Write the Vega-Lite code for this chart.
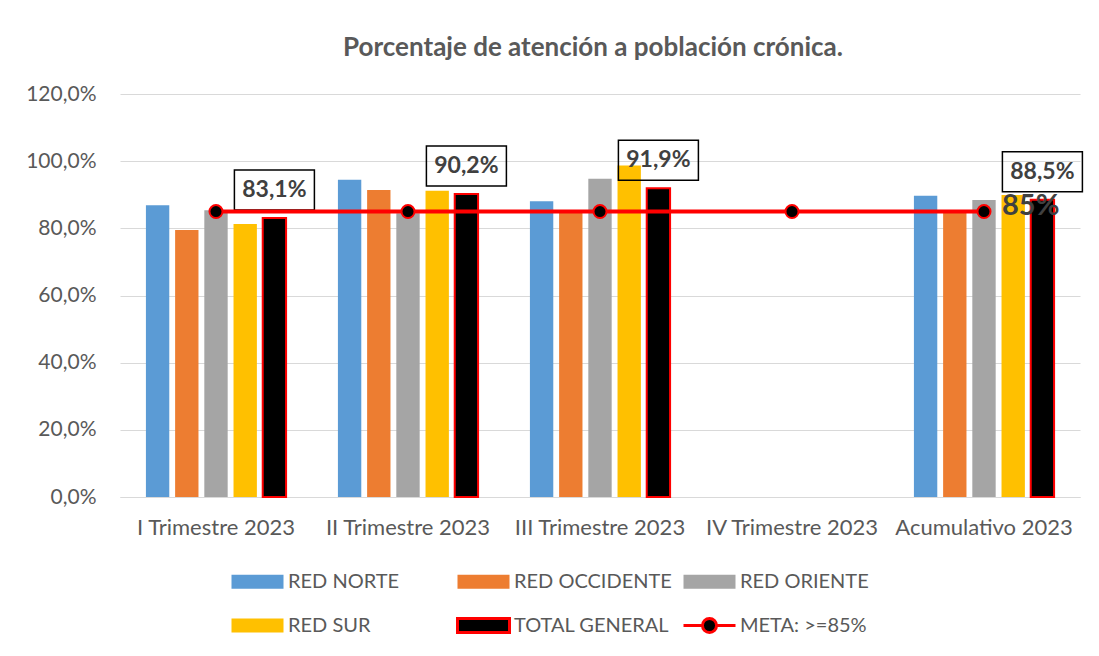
{
  "$schema": "https://vega.github.io/schema/vega-lite/v6.json",
  "width": 960,
  "height": 403,
  "autosize": "none",
  "padding": {"left": 120, "top": 94, "right": 19, "bottom": 159},
  "background": "white",
  "title": {
    "text": "Porcentaje de atención a población crónica.",
    "font": "Lato", "fontSize": 26, "fontWeight": "bold", "color": "#595959",
    "anchor": "middle", "offset": 22, "dx": -7
  },
  "datasets": {
    "bars": [
      {"periodo": "I Trimestre 2023", "serie": "RED NORTE", "valor": 86.9},
      {"periodo": "I Trimestre 2023", "serie": "RED OCCIDENTE", "valor": 79.5},
      {"periodo": "I Trimestre 2023", "serie": "RED ORIENTE", "valor": 85.4},
      {"periodo": "I Trimestre 2023", "serie": "RED SUR", "valor": 81.3},
      {"periodo": "I Trimestre 2023", "serie": "TOTAL GENERAL", "valor": 83.1},
      {"periodo": "II Trimestre 2023", "serie": "RED NORTE", "valor": 94.5},
      {"periodo": "II Trimestre 2023", "serie": "RED OCCIDENTE", "valor": 91.4},
      {"periodo": "II Trimestre 2023", "serie": "RED ORIENTE", "valor": 84.5},
      {"periodo": "II Trimestre 2023", "serie": "RED SUR", "valor": 91.2},
      {"periodo": "II Trimestre 2023", "serie": "TOTAL GENERAL", "valor": 90.2},
      {"periodo": "III Trimestre 2023", "serie": "RED NORTE", "valor": 88.1},
      {"periodo": "III Trimestre 2023", "serie": "RED OCCIDENTE", "valor": 84.8},
      {"periodo": "III Trimestre 2023", "serie": "RED ORIENTE", "valor": 94.8},
      {"periodo": "III Trimestre 2023", "serie": "RED SUR", "valor": 98.7},
      {"periodo": "III Trimestre 2023", "serie": "TOTAL GENERAL", "valor": 91.9},
      {"periodo": "Acumulativo 2023", "serie": "RED NORTE", "valor": 89.7},
      {"periodo": "Acumulativo 2023", "serie": "RED OCCIDENTE", "valor": 85.0},
      {"periodo": "Acumulativo 2023", "serie": "RED ORIENTE", "valor": 88.4},
      {"periodo": "Acumulativo 2023", "serie": "RED SUR", "valor": 89.9},
      {"periodo": "Acumulativo 2023", "serie": "TOTAL GENERAL", "valor": 88.5}
    ],
    "meta": [
      {"periodo": "I Trimestre 2023", "meta": 85},
      {"periodo": "II Trimestre 2023", "meta": 85},
      {"periodo": "III Trimestre 2023", "meta": 85},
      {"periodo": "IV Trimestre 2023", "meta": 85},
      {"periodo": "Acumulativo 2023", "meta": 85}
    ]
  },
  "layer": [
    {
      "data": {"name": "bars"},
      "mark": {"type": "bar"},
      "encoding": {
        "x": {
          "field": "periodo", "type": "nominal", "sort": null,
          "scale": {"domain": ["I Trimestre 2023", "II Trimestre 2023", "III Trimestre 2023", "IV Trimestre 2023", "Acumulativo 2023"], "paddingInner": 0.27, "paddingOuter": 0.135},
          "axis": {"title": null, "labelAngle": 0, "labelFontSize": 22, "labelColor": "#595959", "ticks": false, "domainColor": "#D9D9D9", "labelPadding": 20, "labelFont": "Lato"}
        },
        "xOffset": {
          "field": "serie", "type": "nominal",
          "scale": {"domain": ["RED NORTE", "RED OCCIDENTE", "RED ORIENTE", "RED SUR", "TOTAL GENERAL"], "paddingInner": 0.2, "paddingOuter": 0}
        },
        "y": {
          "field": "valor", "type": "quantitative",
          "scale": {"domain": [0, 120], "nice": false},
          "axis": {"title": null, "values": [0, 20, 40, 60, 80, 100, 120], "domain": false, "ticks": false, "gridColor": "#D9D9D9", "labelFontSize": 21, "labelColor": "#595959", "labelPadding": 24, "labelFont": "Lato",
            "labelExpr": "replace(format(datum.value, '.1f'), '.', ',') + '%'"}
        },
        "color": {
          "field": "serie", "type": "nominal",
          "scale": {
            "domain": ["RED NORTE", "RED OCCIDENTE", "RED ORIENTE", "RED SUR", "TOTAL GENERAL", "META: >=85%"],
            "range": ["#5B9BD5", "#ED7D31", "#A5A5A5", "#FFC000", "#000000", "#000000"]
          },
          "legend": {
            "title": null, "orient": "none", "legendX": 110, "legendY": 460,
            "direction": "horizontal",
            "columns": 3, "gridAlign": "all", "columnPadding": 5, "rowPadding": 3,
            "symbolSize": 2704, "symbolOffset": 0, "labelOffset": 3,
            "labelFontSize": 20, "labelColor": "#595959", "labelFont": "Lato", "labelLimit": 300,
            "symbolLimit": 0,
            "symbolType": {"expr": "datum.value === 'META: >=85%' ? 'M-1,0L-0.27,0M0.27,0L1,0M0.27,0A0.27,0.27,0,1,1,-0.27,0A0.27,0.27,0,1,1,0.27,0Z' : 'M-1,-0.27L1,-0.27L1,0.27L-1,0.27Z'"},
            "symbolStrokeColor": {"expr": "(datum.value === 'META: >=85%' || datum.value === 'TOTAL GENERAL') ? '#FF0000' : 'transparent'"},
            "symbolStrokeWidth": 3
          }
        },
        "stroke": {"condition": {"test": "datum.serie === 'TOTAL GENERAL'", "value": "#FF0000"}, "value": "transparent"},
        "strokeWidth": {"condition": {"test": "datum.serie === 'TOTAL GENERAL'", "value": 2}, "value": 0}
      }
    },
    {
      "data": {"name": "bars"},
      "transform": [{"filter": "datum.serie === 'TOTAL GENERAL'"}],
      "mark": {"type": "point", "filled": false, "stroke": "#000000", "strokeWidth": 1.5, "opacity": 1,
        "shape": "M-1,-0.5L1,-0.5L1,0.5L-1,0.5Z", "size": 6400, "yOffset": -28},
      "encoding": {
        "x": {"field": "periodo", "type": "nominal", "sort": null},
        "xOffset": {"field": "serie", "type": "nominal"},
        "y": {"field": "valor", "type": "quantitative"}
      }
    },
    {
      "data": {"name": "meta"},
      "mark": {"type": "line", "color": "#FF0000", "strokeWidth": 4},
      "encoding": {
        "x": {"field": "periodo", "type": "nominal", "sort": null},
        "y": {"field": "meta", "type": "quantitative"}
      }
    },
    {
      "data": {"name": "meta"},
      "mark": {"type": "point", "filled": true, "fill": "#000000", "stroke": "#FF0000", "strokeWidth": 2, "size": 170, "opacity": 1},
      "encoding": {
        "x": {"field": "periodo", "type": "nominal", "sort": null},
        "y": {"field": "meta", "type": "quantitative"}
      }
    },
    {
      "data": {"name": "bars"},
      "transform": [
        {"filter": "datum.serie === 'TOTAL GENERAL'"},
        {"calculate": "replace(format(datum.valor, '.1f'), '.', ',') + '%'", "as": "etiqueta"}
      ],
      "mark": {"type": "text", "font": "Lato", "fontSize": 23, "fontWeight": "bold", "color": "#404040", "baseline": "middle", "align": "center", "yOffset": -28},
      "encoding": {
        "x": {"field": "periodo", "type": "nominal", "sort": null},
        "xOffset": {"field": "serie", "type": "nominal"},
        "y": {"field": "valor", "type": "quantitative"},
        "text": {"field": "etiqueta"}
      }
    },
    {
      "data": {"name": "meta"},
      "transform": [{"filter": "datum.periodo === 'Acumulativo 2023'"}],
      "mark": {"type": "text", "font": "Lato", "fontSize": 29, "fontWeight": "bold", "color": "#404040", "baseline": "middle", "align": "left", "dx": 18, "dy": -6},
      "encoding": {
        "x": {"field": "periodo", "type": "nominal", "sort": null},
        "y": {"field": "meta", "type": "quantitative"},
        "text": {"value": "85%"}
      }
    }
  ],
  "config": {
    "view": {"stroke": null},
    "font": "Lato"
  }
}
